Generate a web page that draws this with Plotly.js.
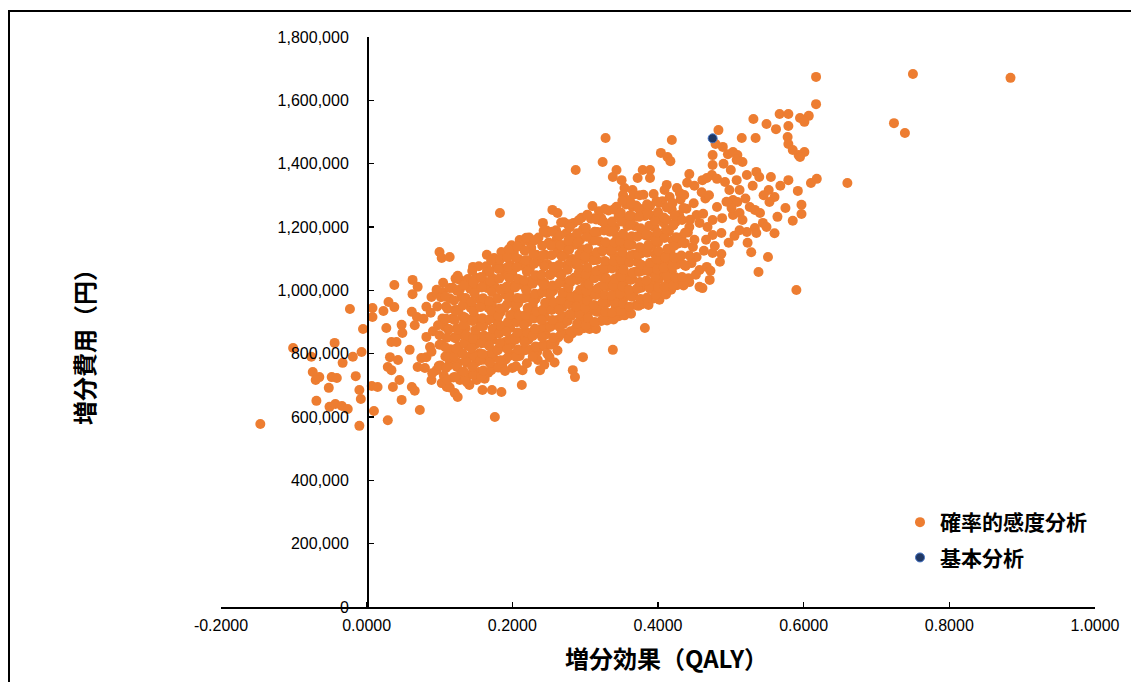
<!DOCTYPE html>
<html>
<head>
<meta charset="utf-8">
<script src="https://cdn.plot.ly/plotly-3.0.1.min.js"></script>
<style>
  html, body { margin: 0; padding: 0; background: #fff; }
  #chart { width: 1131px; height: 682px; }
</style>
</head>
<body>
<div id="chart"></div>
<script>
// Probabilistic sensitivity analysis: incremental effect (QALY) per simulation
const psaEffect = [
  -0.146,-0.101,-0.076,-0.044,-0.033,-0.074,-0.065,-0.070,-0.048,-0.041,
  -0.052,-0.069,-0.051,-0.043,-0.034,-0.026,-0.023,-0.019,-0.015,-0.005,
  -0.007,-0.010,-0.008,-0.010,0.007,0.015,0.010,0.008,0.008,0.023,
  0.030,0.038,0.038,0.063,0.070,0.063,0.027,0.048,0.049,0.034,
  0.041,0.059,0.032,0.043,0.029,0.034,0.045,0.036,0.048,0.062,
  0.066,0.073,0.029,0.062,0.069,0.066,0.078,0.082,0.082,0.087,
  0.082,0.075,0.070,0.080,0.089,0.096,0.103,0.110,0.121,0.125,
  0.128,0.141,0.151,0.159,0.172,0.185,0.176,0.213,0.187,0.200,
  0.214,0.238,0.251,0.128,0.137,0.104,0.114,0.089,0.096,0.151,
  0.165,0.100,0.103,0.114,0.146,0.165,0.185,0.210,0.224,0.183,
  0.255,0.262,0.310,0.242,0.276,0.247,0.261,0.297,0.313,0.322,
  0.348,0.365,0.385,0.402,0.375,0.283,0.286,0.297,0.338,0.382,
  0.402,0.617,0.567,0.579,0.595,0.607,0.601,0.531,0.549,0.562,
  0.579,0.483,0.479,0.489,0.515,0.534,0.578,0.579,0.585,0.593,
  0.601,0.595,0.328,0.419,0.404,0.413,0.417,0.324,0.475,0.475,
  0.496,0.503,0.509,0.516,0.508,0.443,0.474,0.481,0.461,0.467,
  0.343,0.338,0.350,0.354,0.352,0.379,0.389,0.372,0.389,0.412,
  0.409,0.426,0.430,0.365,0.361,0.508,0.522,0.512,0.498,0.492,
  0.535,0.539,0.555,0.552,0.560,0.553,0.579,0.592,0.597,0.597,
  0.610,0.618,0.660,0.564,0.523,0.551,0.538,0.590,0.471,0.487,
  0.475,0.505,0.522,0.533,0.544,0.535,0.503,0.512,0.516,0.526,
  0.533,0.540,0.503,0.509,0.501,0.549,0.443,0.457,0.461,0.448,
  0.453,0.446,0.457,0.467,0.487,0.475,0.468,0.443,0.457,0.475,
  0.481,0.617,0.750,0.884,0.724,0.739,0.287,0.452,0.450,0.453,
  0.449,0.463,0.466,0.462,0.465,0.472,0.478,0.470,0.488,0.494,
  0.497,0.485,0.512,0.520,0.528,0.545,0.568,0.575,0.585,0.560,
  0.530,0.500,0.490,0.460,0.450,0.440,
  0.090,0.089,0.091,0.088,0.096,
  0.106,0.101,0.108,0.103,0.100,0.107,0.104,0.109,0.102,0.105,
  0.114,0.119,0.113,0.118,0.115,0.120,0.112,0.117,0.121,0.114,0.118,
  0.130,0.125,0.131,0.127,0.129,0.124,0.132,0.126,0.130,0.128,0.125,
  0.138,0.143,0.137,0.142,0.139,0.144,0.136,0.141,0.143,0.138,0.142,0.139,
  0.154,0.150,0.155,0.149,0.153,0.156,0.151,0.148,0.155,0.152,0.149,0.154,
  0.162,0.167,0.161,0.166,0.163,0.168,0.160,0.165,0.167,0.162,0.166,0.161,0.164,
  0.178,0.174,0.179,0.173,0.177,0.180,0.175,0.172,0.179,0.176,0.173,0.178,0.175,
  0.186,0.191,0.185,0.190,0.187,0.192,0.184,0.189,0.191,0.186,0.190,0.185,
  0.202,0.198,0.203,0.197,0.201,0.204,0.199,0.196,0.203,0.200,0.197,0.202,0.199,
  0.210,0.215,0.209,0.214,0.211,0.216,0.208,0.213,0.215,0.210,0.214,0.209,0.212,
  0.226,0.222,0.227,0.221,0.225,0.228,0.223,0.220,0.227,0.224,0.221,0.226,0.223,
  0.234,0.239,0.233,0.238,0.235,0.240,0.232,0.237,0.239,0.234,0.238,0.233,0.236,
  0.250,0.246,0.251,0.245,0.249,0.252,0.247,0.244,0.251,0.248,0.245,0.250,0.247,
  0.258,0.263,0.257,0.262,0.259,0.264,0.256,0.261,0.263,0.258,0.262,0.257,0.260,
  0.274,0.270,0.275,0.269,0.273,0.276,0.271,0.268,0.275,0.272,0.269,0.274,0.271,
  0.282,0.287,0.281,0.286,0.283,0.288,0.280,0.285,0.287,0.282,0.286,0.281,0.284,
  0.298,0.294,0.299,0.293,0.297,0.300,0.295,0.292,0.299,0.296,0.293,0.298,0.295,
  0.306,0.311,0.305,0.310,0.307,0.312,0.304,0.309,0.311,0.306,0.310,0.305,0.308,
  0.322,0.318,0.323,0.317,0.321,0.324,0.319,0.316,0.323,0.320,0.317,0.322,0.319,
  0.330,0.335,0.329,0.334,0.331,0.336,0.328,0.333,0.335,0.330,0.334,0.329,0.332,
  0.346,0.342,0.347,0.341,0.345,0.348,0.343,0.340,0.347,0.344,0.341,0.346,0.343,
  0.354,0.359,0.353,0.358,0.355,0.360,0.352,0.357,0.359,0.354,0.358,0.353,0.356,
  0.370,0.366,0.371,0.365,0.369,0.372,0.367,0.364,0.371,0.368,0.365,0.370,0.367,
  0.378,0.383,0.377,0.382,0.379,0.384,0.376,0.381,0.383,0.378,0.382,0.377,0.380,
  0.394,0.390,0.395,0.389,0.393,0.396,0.391,0.388,0.395,0.392,0.389,0.394,
  0.402,0.407,0.401,0.406,0.403,0.408,0.400,0.405,0.407,0.402,0.406,
  0.418,0.414,0.419,0.413,0.417,0.420,0.415,0.412,0.419,0.416,
  0.426,0.431,0.425,0.430,0.427,0.432,0.424,0.429,0.431,
  0.442,0.438,0.443,0.437,0.441,0.444,0.439,0.436,
  0.099,0.100,0.098,0.097,
  0.111,0.109,0.112,0.108,0.110,0.113,0.109,0.111,0.108,
  0.121,0.124,0.120,0.123,0.122,0.125,0.121,0.123,0.120,0.124,0.122,
  0.135,0.133,0.136,0.132,0.134,0.137,0.133,0.135,0.132,0.136,0.134,
  0.147,0.145,0.148,0.144,0.146,0.149,0.145,0.147,0.144,0.148,0.146,0.145,
  0.157,0.160,0.156,0.159,0.158,0.161,0.157,0.159,0.156,0.160,0.158,0.157,
  0.171,0.169,0.172,0.168,0.170,0.173,0.169,0.171,0.168,0.172,0.170,0.169,0.171,
  0.181,0.184,0.180,0.183,0.182,0.185,0.181,0.183,0.180,0.184,0.182,0.181,0.183,
  0.195,0.193,0.196,0.192,0.194,0.197,0.193,0.195,0.192,0.196,0.194,0.193,0.195,
  0.205,0.208,0.204,0.207,0.206,0.209,0.205,0.207,0.204,0.208,0.206,0.205,0.207,
  0.219,0.217,0.220,0.216,0.218,0.221,0.217,0.219,0.216,0.220,0.218,0.217,0.219,
  0.229,0.232,0.228,0.231,0.230,0.233,0.229,0.231,0.228,0.232,0.230,0.229,0.231,
  0.243,0.241,0.244,0.240,0.242,0.245,0.241,0.243,0.240,0.244,0.242,0.241,0.243,
  0.253,0.256,0.252,0.255,0.254,0.257,0.253,0.255,0.252,0.256,0.254,0.253,0.255,
  0.267,0.265,0.268,0.264,0.266,0.269,0.265,0.267,0.264,0.268,0.266,0.265,0.267,
  0.277,0.280,0.276,0.279,0.278,0.281,0.277,0.279,0.276,0.280,0.278,0.277,0.279,
  0.291,0.289,0.292,0.288,0.290,0.293,0.289,0.291,0.288,0.292,0.290,0.289,0.291,
  0.301,0.304,0.300,0.303,0.302,0.305,0.301,0.303,0.300,0.304,0.302,0.301,0.303,
  0.315,0.313,0.316,0.312,0.314,0.317,0.313,0.315,0.312,0.316,0.314,0.313,0.315,
  0.325,0.328,0.324,0.327,0.326,0.329,0.325,0.327,0.324,0.328,0.326,0.325,0.327,
  0.339,0.337,0.340,0.336,0.338,0.341,0.337,0.339,0.336,0.340,0.338,0.337,0.339,
  0.349,0.352,0.348,0.351,0.350,0.353,0.349,0.351,0.348,0.352,0.350,0.349,0.351,
  0.363,0.361,0.364,0.360,0.362,0.365,0.361,0.363,0.360,0.364,0.362,0.361,0.363,
  0.373,0.376,0.372,0.375,0.374,0.377,0.373,0.375,0.372,0.376,0.374,0.373,0.375,
  0.387,0.385,0.388,0.384,0.386,0.389,0.385,0.387,0.384,0.388,0.386,0.385,
  0.397,0.400,0.396,0.399,0.398,0.401,0.397,0.399,0.396,0.400,0.398,
  0.411,0.409,0.412,0.408,0.410,0.413,0.409,0.411,0.408,0.412,
  0.421,0.424,0.420,0.423,0.422,0.425,0.421,0.423,0.420,
  0.435,0.433,0.436,0.432,0.434,0.437,0.433,0.435,
  0.190,0.205,0.220,0.235,0.248,0.262,0.228,0.244,0.258
];

// Incremental cost (yen) for the same simulations, in the same order
const psaCost = [
  578000,818000,790000,834000,771000,742000,726000,717000,726000,723000,
  692000,651000,632000,641000,635000,625000,941000,790000,729000,878000,
  805000,685000,657000,572000,698000,695000,619000,944000,916000,935000,
  963000,947000,1017000,1033000,1011000,988000,881000,891000,865000,837000,
  837000,812000,789000,780000,758000,748000,717000,695000,654000,695000,
  683000,622000,590000,932000,916000,890000,910000,948000,853000,821000,
  789000,786000,758000,755000,717000,748000,707000,695000,676000,663000,
  717000,701000,717000,685000,685000,679000,600000,701000,755000,755000,
  748000,748000,789000,1033000,1023000,995000,1007000,979000,992000,1039000,
  1058000,1121000,1102000,1105000,1074000,1112000,1121000,1159000,1153000,1244000,
  1254000,1244000,1266000,1213000,1209000,1181000,1162000,1191000,1228000,1228000,
  1244000,1263000,1254000,1276000,1238000,748000,726000,789000,812000,881000,
  970000,1588000,1557000,1557000,1544000,1551000,1532000,1541000,1525000,1509000,
  1519000,1506000,1462000,1453000,1481000,1481000,1484000,1462000,1443000,1427000,
  1437000,1421000,1481000,1475000,1434000,1421000,1408000,1405000,1427000,1396000,
  1430000,1437000,1427000,1405000,1412000,1367000,1364000,1352000,1348000,1355000,
  1380000,1358000,1348000,1323000,1301000,1380000,1380000,1355000,1355000,1333000,
  1317000,1323000,1307000,1317000,1285000,1348000,1364000,1317000,1317000,1342000,
  1374000,1358000,1358000,1317000,1295000,1279000,1348000,1314000,1270000,1241000,
  1339000,1352000,1339000,1232000,1150000,1105000,1058000,1001000,1033000,1115000,
  1118000,1172000,1184000,1197000,1213000,1181000,1238000,1244000,1222000,1263000,
  1254000,1244000,1285000,1279000,1260000,1200000,1026000,1011000,1007000,1137000,
  1105000,1086000,1064000,1074000,1181000,1175000,1200000,1200000,1213000,1222000,
  1263000,1674000,1683000,1671000,1528000,1497000,1380000,1049000,1160000,1238000,
  1275000,1125000,1160000,1242000,1290000,1062000,1140000,1300000,1228000,1280000,
  1150000,1090000,1190000,1290000,1120000,1300000,1330000,1260000,1220000,1180000,
  1330000,1380000,1400000,1310000,1330000,1340000,
  738000,806000,871000,929000,1002000,
  730000,763000,791000,828000,858000,886000,911000,949000,978000,1024000,
  693000,725000,763000,787000,814000,851000,876000,910000,938000,975000,1008000,
  739000,771000,800000,823000,861000,880000,917000,939000,978000,1003000,1046000,
  709000,734000,771000,792000,824000,852000,881000,908000,944000,963000,1005000,1036000,
  742000,772000,801000,829000,856000,889000,911000,944000,972000,1007000,1034000,1076000,
  721000,740000,781000,794000,834000,849000,887000,904000,945000,966000,1007000,1029000,1076000,
  758000,787000,812000,844000,865000,897000,920000,954000,975000,1011000,1038000,1078000,1102000,
  766000,782000,822000,837000,876000,889000,931000,945000,986000,1005000,1049000,1069000,
  798000,828000,850000,882000,905000,936000,961000,991000,1016000,1052000,1080000,1118000,1142000,
  793000,809000,850000,864000,905000,918000,959000,974000,1015000,1033000,1078000,1098000,1148000,
  813000,844000,867000,900000,923000,952000,977000,1008000,1033000,1068000,1095000,1134000,1167000,
  805000,822000,864000,877000,918000,932000,973000,988000,1029000,1046000,1091000,1112000,1167000,
  829000,861000,887000,915000,940000,971000,994000,1024000,1050000,1083000,1112000,1151000,1189000,
  836000,851000,891000,906000,946000,960000,999000,1014000,1056000,1073000,1119000,1141000,1190000,
  864000,894000,918000,947000,970000,1000000,1024000,1054000,1080000,1112000,1142000,1180000,1215000,
  864000,879000,920000,934000,973000,986000,1026000,1040000,1082000,1099000,1144000,1166000,1213000,
  880000,911000,935000,965000,988000,1017000,1041000,1071000,1097000,1130000,1159000,1196000,1229000,
  878000,893000,932000,945000,984000,998000,1038000,1053000,1095000,1112000,1157000,1177000,1226000,
  903000,933000,958000,988000,1011000,1041000,1065000,1096000,1122000,1155000,1184000,1220000,1250000,
  905000,919000,959000,972000,1012000,1026000,1066000,1081000,1123000,1140000,1185000,1205000,1252000,
  918000,949000,972000,1001000,1025000,1055000,1079000,1110000,1136000,1169000,1198000,1234000,1264000,
  921000,936000,976000,990000,1030000,1044000,1084000,1099000,1141000,1158000,1203000,1223000,1271000,
  953000,983000,1006000,1035000,1059000,1089000,1113000,1144000,1170000,1203000,1232000,1268000,1303000,
  956000,969000,1008000,1022000,1062000,1076000,1116000,1131000,1173000,1190000,1235000,1255000,1302000,
  974000,1004000,1028000,1058000,1083000,1114000,1140000,1172000,1200000,1235000,1266000,1304000,
  979000,994000,1035000,1050000,1091000,1108000,1151000,1169000,1214000,1234000,1281000,
  1002000,1034000,1060000,1094000,1122000,1157000,1186000,1222000,1254000,1295000,
  1016000,1036000,1081000,1101000,1147000,1168000,1215000,1238000,1287000,
  1038000,1077000,1110000,1149000,1183000,1223000,1258000,1301000,
  761000,828000,890000,949000,
  718000,755000,787000,820000,850000,878000,910000,942000,980000,
  726000,758000,791000,816000,849000,875000,906000,934000,968000,999000,1037000,
  716000,744000,777000,800000,834000,858000,891000,914000,952000,976000,1016000,
  733000,759000,793000,817000,847000,875000,903000,933000,964000,991000,1025000,1061000,
  729000,747000,779000,799000,833000,857000,887000,912000,947000,975000,1009000,1042000,
  748000,771000,803000,825000,856000,879000,909000,935000,966000,995000,1029000,1060000,1095000,
  756000,779000,811000,834000,864000,887000,919000,943000,974000,1002000,1037000,1067000,1097000,
  792000,815000,846000,869000,900000,922000,956000,978000,1011000,1038000,1074000,1103000,1130000,
  790000,813000,844000,867000,899000,921000,954000,976000,1009000,1036000,1073000,1102000,1138000,
  812000,835000,867000,890000,922000,944000,976000,1000000,1032000,1059000,1095000,1125000,1166000,
  800000,823000,856000,879000,911000,933000,965000,989000,1021000,1048000,1084000,1114000,1158000,
  827000,851000,885000,906000,939000,961000,994000,1016000,1049000,1075000,1111000,1141000,1188000,
  828000,851000,884000,906000,938000,961000,992000,1015000,1048000,1074000,1111000,1141000,1185000,
  862000,884000,917000,939000,970000,992000,1024000,1046000,1080000,1106000,1143000,1173000,1214000,
  848000,871000,903000,925000,956000,979000,1009000,1032000,1065000,1091000,1128000,1157000,1199000,
  872000,895000,927000,949000,980000,1002000,1033000,1055000,1090000,1114000,1152000,1180000,1221000,
  890000,913000,944000,967000,997000,1019000,1051000,1073000,1107000,1133000,1169000,1198000,1239000,
  878000,900000,932000,954000,985000,1006000,1038000,1061000,1096000,1120000,1158000,1185000,1224000,
  909000,932000,963000,985000,1016000,1038000,1070000,1093000,1127000,1152000,1189000,1217000,1257000,
  908000,930000,962000,984000,1015000,1037000,1069000,1092000,1127000,1151000,1189000,1217000,1255000,
  935000,958000,990000,1012000,1043000,1065000,1097000,1120000,1155000,1179000,1217000,1245000,1283000,
  926000,948000,980000,1002000,1033000,1056000,1088000,1111000,1146000,1171000,1208000,1236000,1275000,
  951000,973000,1004000,1026000,1058000,1081000,1113000,1136000,1170000,1196000,1232000,1260000,1300000,
  954000,977000,1008000,1031000,1063000,1087000,1119000,1144000,1178000,1204000,1242000,1272000,
  986000,1009000,1043000,1066000,1099000,1123000,1157000,1183000,1219000,1247000,1281000,
  987000,1012000,1045000,1071000,1104000,1131000,1165000,1193000,1230000,1262000,
  1016000,1041000,1076000,1104000,1140000,1168000,1205000,1236000,1276000,
  1015000,1042000,1080000,1110000,1150000,1182000,1222000,1260000,
  745000,760000,770000,780000,800000,810000,790000,765000,772000
];

// Base-case analysis result
const baseEffect = [0.475];
const baseCost = [1480000];

// Axis ticks
const effectTicks = [-0.2, 0, 0.2, 0.4, 0.6, 0.8, 1.0];
const effectTickText = ['-0.2000', '0.0000', '0.2000', '0.4000', '0.6000', '0.8000', '1.0000'];
const costTicks = [0, 200000, 400000, 600000, 800000, 1000000, 1200000, 1400000, 1600000, 1800000];
const costTickText = ['0', '200,000', '400,000', '600,000', '800,000', '1,000,000', '1,200,000', '1,400,000', '1,600,000', '1,800,000'];

const seriesNames = ['確率的感度分析', '基本分析'];

if (psaEffect.length !== psaCost.length) {
  console.error('length mismatch', psaEffect.length, psaCost.length);
}

const numFont = { family: 'Liberation Sans, Arial, sans-serif', size: 16, color: '#000' };
const jpFont = 'Noto Sans CJK JP, sans-serif';

const traces = [
  {
    type: 'scatter', mode: 'markers',
    name: seriesNames[0], legendgroup: 'psa',
    x: psaEffect, y: psaCost,
    marker: { color: '#ED7D31', size: 10, line: { width: 0 } },
    hoverinfo: 'skip'
  },
  {
    type: 'scatter', mode: 'markers',
    name: seriesNames[1], legendgroup: 'base',
    x: baseEffect, y: baseCost,
    marker: { color: '#203864', size: 9, line: { color: '#4472C4', width: 1 } },
    hoverinfo: 'skip'
  }
];

const L = 221, R = 1095, T = 37, B = 607;
const px2x = p => (p - L) / (R - L);
const py2y = p => (B - p) / (B - T);

const layout = {
  width: 1131, height: 682,
  margin: { l: L, r: 1131 - R, t: T, b: 682 - B, pad: 0 },
  paper_bgcolor: '#fff', plot_bgcolor: '#fff',
  showlegend: true,
  xaxis: {
    range: [-0.2, 1.0], tickmode: 'array', tickvals: effectTicks, ticktext: effectTickText,
    ticks: 'inside', ticklen: 5, tickwidth: 1.5, tickcolor: '#000',
    showline: true, linecolor: '#000', linewidth: 1.5,
    showgrid: false, zeroline: false, tickfont: numFont, ticklabelstandoff: 3,
    fixedrange: true
  },
  yaxis: {
    range: [0, 1800000], tickmode: 'array', tickvals: costTicks, ticktext: costTickText,
    anchor: 'free', position: px2x(367),
    ticks: 'inside', ticklen: 5, tickwidth: 1.5, tickcolor: '#000',
    showline: true, linecolor: '#000', linewidth: 1.5,
    showgrid: false, zeroline: false, tickfont: numFont, ticklabelstandoff: 15,
    fixedrange: true
  },
  legend: {
    x: px2x(900), xanchor: 'left', y: py2y(540), yanchor: 'middle',
    bgcolor: 'rgba(0,0,0,0)', borderwidth: 0,
    traceorder: 'grouped', tracegroupgap: 5, itemsizing: 'trace',
    font: { family: jpFont, size: 21, weight: 'bold', color: '#000' }
  },
  annotations: [
    {
      xref: 'paper', yref: 'paper', x: px2x(666), y: py2y(657),
      xanchor: 'center', yanchor: 'middle', showarrow: false,
      text: '増分効果（QALY）',
      font: { family: jpFont, size: 24, weight: 'bold', color: '#000' }
    },
    {
      xref: 'paper', yref: 'paper', x: px2x(83), y: py2y(341),
      xanchor: 'center', yanchor: 'middle', showarrow: false, textangle: -90,
      text: '増分費用（円）',
      font: { family: jpFont, size: 24, weight: 'bold', color: '#000' }
    }
  ],
  shapes: [
    {
      type: 'rect', xref: 'paper', yref: 'paper', layer: 'below',
      x0: px2x(9), x1: px2x(1140), y0: py2y(700), y1: py2y(11),
      line: { color: '#000', width: 2 }, fillcolor: 'rgba(0,0,0,0)'
    }
  ]
};

Plotly.newPlot('chart', traces, layout, { staticPlot: true, displayModeBar: false });
</script>
</body>
</html>
